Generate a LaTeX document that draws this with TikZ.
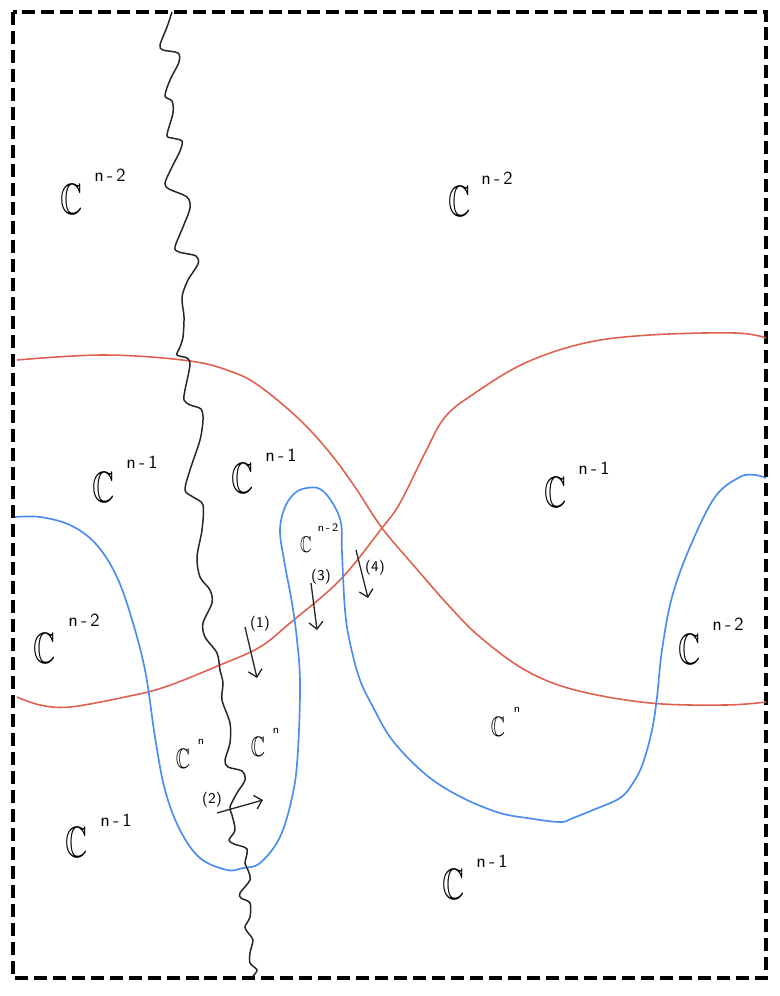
\documentclass[tikz,border=0pt]{standalone}
\usepackage{amssymb}
\usetikzlibrary{arrows.meta}
\definecolor{redc}{HTML}{E0604F}
\definecolor{bluec}{HTML}{4A8CF0}
\begin{document}
\begin{tikzpicture}[x=0.02cm,y=-0.02cm,
  bigC/.style={inner sep=0pt,font=\fontsize{25}{25}\selectfont},
  midC/.style={inner sep=0pt,font=\fontsize{16}{16}\selectfont},
  smallC/.style={inner sep=0pt,font=\fontsize{13}{13}\selectfont},
  supbig/.style={inner sep=0pt,font=\sffamily\fontsize{10.5}{10.5}\selectfont},
  supsmall/.style={inner sep=0pt,font=\sffamily\fontsize{6.5}{6.5}\selectfont},
  lab/.style={inner sep=0pt,font=\sffamily\fontsize{8.5}{8.5}\selectfont},
  redline/.style={draw=redc,line width=0.9pt},
  blueline/.style={draw=bluec,line width=0.95pt},
  wavy/.style={draw=black!85,line width=0.85pt},
  arr/.style={draw=black!85,line width=0.75pt,-{Straight Barb[length=4pt,width=8pt]}}]
\useasboundingbox (0,0) rectangle (779,996);
% border
\draw[line width=2.4pt,dash pattern=on 7.4pt off 3.4pt] (13,12) rectangle (766,978);
% red curves
\draw[redline] plot[smooth,tension=0.6] coordinates {(17,360) (105,355) (190,361) (235,373) (262,388) (300,420) (330,453) (355,487) (382,528) (415,567) (450,607) (480,637) (525,670) (575,690) (650,703) (725,705) (766,702)};
\draw[redline] plot[smooth,tension=0.6] coordinates {(17,697) (40,705) (70,707) (125,697) (165,687) (220,665) (260,647) (290,623) (340,580) (382,528) (400,503) (425,453) (445,417) (475,393) (525,363) (585,343) (650,335) (735,333) (766,338)};
% blue curve
\draw[blueline] plot[smooth,tension=0.6] coordinates {(15,517) (40,517) (70,525) (95,543) (115,573) (130,613) (145,670) (155,737) (165,790) (180,830) (200,858) (227,870) (243,868) (260,863) (280,837) (293,793) (298,750) (300,683) (297,640) (292,603) (284,560) (280,530) (285,507) (295,493) (307,488) (320,489) (332,502) (341,523) (342,553) (345,610) (350,643) (360,680) (373,707) (390,737) (413,763) (437,783) (467,800) (500,813) (527,818) (560,822) (573,818) (593,810) (620,798) (633,783) (643,763) (652,730) (657,697) (662,650) (672,597) (690,547) (715,497) (740,477) (755,475) (766,478)};
% wavy black line
\draw[wavy] plot[smooth,tension=0.5] coordinates {(172,12) (167,27) (160,45) (163,50) (178,53) (179,62) (170,80) (165,96) (172,101) (173,113) (167,135) (172,138) (182,141) (180,151) (172,167) (165,183) (169,189) (187,197) (190,208) (183,227) (175,247) (179,252) (196,256) (198,264) (188,280) (182,297) (184,317) (183,337) (180,347) (177,355) (187,358) (190,365) (185,390) (184,400) (190,405) (201,409) (203,420) (200,440) (190,470) (185,490) (193,497) (203,505) (202,530) (197,557) (200,577) (210,590) (212,603) (203,623) (205,637) (217,653) (220,670) (223,683) (222,700) (230,723) (230,743) (225,760) (228,767) (242,771) (245,780) (237,793) (230,807) (232,815) (235,830) (229,840) (234,844) (247,849) (245,863) (248,870) (250,880) (240,893) (241,898) (250,903) (250,917) (245,927) (249,934) (253,940) (250,953) (250,963) (257,970) (253,976)};
% labels: big C
\node[bigC] (cA) at (72,199) {\scalebox{0.7}[1]{$\mathbb{C}$}};
\node[supbig] (sA) at (110,175) {n\,-\,2};
\node[bigC] (cB) at (460,201) {\scalebox{0.7}[1]{$\mathbb{C}$}};
\node[supbig] (sB) at (497,178) {n\,-\,2};
\node[bigC] (cC) at (104,487) {\scalebox{0.7}[1]{$\mathbb{C}$}};
\node[supbig] (sC) at (142,462) {n\,-\,1};
\node[bigC] (cD) at (243,478) {\scalebox{0.7}[1]{$\mathbb{C}$}};
\node[supbig] (sD) at (281,455) {n\,-\,1};
\node[bigC] (cE) at (556,492) {\scalebox{0.7}[1]{$\mathbb{C}$}};
\node[supbig] (sE) at (594,468) {n\,-\,1};
\node[bigC] (cG) at (45,648) {\scalebox{0.7}[1]{$\mathbb{C}$}};
\node[supbig] (sG) at (84,620) {n\,-\,2};
\node[bigC] (cH) at (690,649) {\scalebox{0.7}[1]{$\mathbb{C}$}};
\node[supbig] (sH) at (728,624) {n\,-\,2};
\node[bigC] (cL) at (77,842) {\scalebox{0.7}[1]{$\mathbb{C}$}};
\node[supbig] (sL) at (116,820) {n\,-\,1};
\node[bigC] (cM) at (454,884) {\scalebox{0.7}[1]{$\mathbb{C}$}};
\node[supbig] (sM) at (492,861) {n\,-\,1};
% small C
\node[smallC] (cF) at (306,545) {\scalebox{0.7}[1]{$\mathbb{C}$}};
\node[supsmall] (sF) at (328,528) {n\,-\,2};
\node[midC] (cI) at (183,759) {\scalebox{0.7}[1]{$\mathbb{C}$}};
\node[supsmall] (sI) at (201,742) {n};
\node[midC] (cJ) at (258,747) {\scalebox{0.7}[1]{$\mathbb{C}$}};
\node[supsmall] (sJ) at (276,731) {n};
\node[midC] (cK) at (498,727) {\scalebox{0.7}[1]{$\mathbb{C}$}};
\node[supsmall] (sK) at (517,710) {n};
% arrows
\coordinate (a1s) at (245,627); \coordinate (a1e) at (257,678);
\coordinate (a2s) at (217,813); \coordinate (a2e) at (263,800);
\coordinate (a3s) at (311,583); \coordinate (a3e) at (317,630);
\coordinate (a4s) at (356,550); \coordinate (a4e) at (368,598);
\draw[arr] (a1s) -- (a1e);
\draw[arr] (a2s) -- (a2e);
\draw[arr] (a3s) -- (a3e);
\draw[arr] (a4s) -- (a4e);
\node[lab] (l1) at (260,624) {(1)};
\node[lab] (l2) at (212,800) {(2)};
\node[lab] (l3) at (321,577) {(3)};
\node[lab] (l4) at (375,568) {(4)};
\end{tikzpicture}
\end{document}
